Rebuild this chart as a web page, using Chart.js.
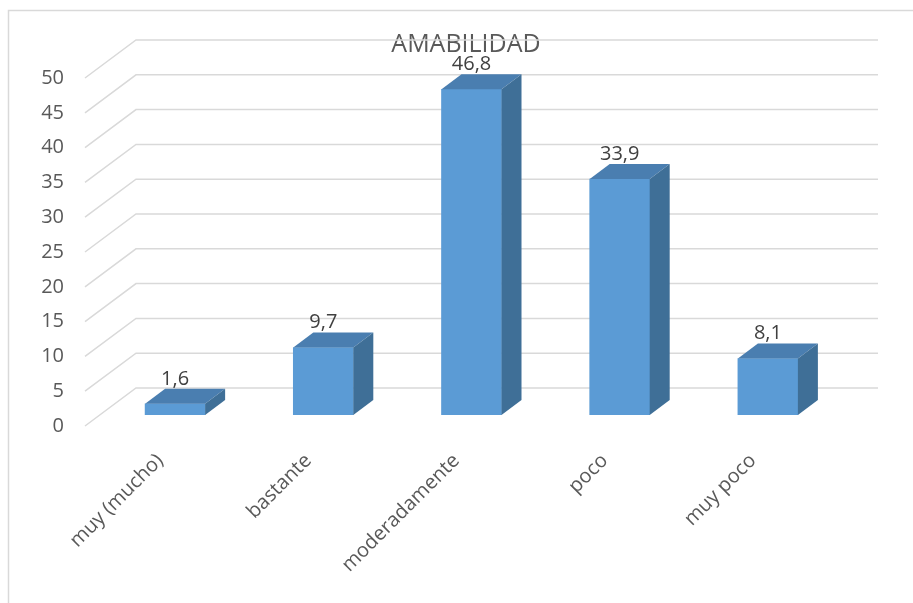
<!DOCTYPE html>
<html>
<head>
<meta charset="utf-8">
<script src="https://cdn.jsdelivr.net/npm/chart.js@4.4.1/dist/chart.umd.min.js"></script>
<style>
  html, body { margin: 0; padding: 0; background: #fff; }
  #wrap { width: 913px; height: 603px; }
</style>
</head>
<body>
<div id="wrap"><canvas id="amabilidad"></canvas></div>
<script>
const categories = ["muy (mucho)", "bastante", "moderadamente", "poco", "muy poco"];
const percentages = [1.6, 9.7, 46.8, 33.9, 8.1];
const yTicks = [0, 5, 10, 15, 20, 25, 30, 35, 40, 45, 50];

const gridColor = "#d9d9d9";
const textColor = "#595959";
const font = "'Open Sans', sans-serif";

// fake 3D: back wall grid, bar top/side faces, value labels
const depth = { dx: 20, dy: -15 };

const frame3d = {
  id: "frame3d",
  afterLayout(chart) {
    // title sits a bit right of the plot centre
    chart.titleBlock.left += 45;
    chart.titleBlock.right += 45;
  },
  beforeDraw(chart) {
    const ctx = chart.ctx;
    ctx.save();
    ctx.strokeStyle = gridColor;
    ctx.lineWidth = 1.5;
    ctx.beginPath();
    ctx.moveTo(8.5, 603);
    ctx.lineTo(8.5, 10.5);
    ctx.lineTo(913, 10.5);
    ctx.stroke();
    ctx.restore();
  },
  beforeDatasetsDraw(chart) {
    const { ctx, chartArea, scales } = chart;
    ctx.save();
    ctx.strokeStyle = gridColor;
    ctx.lineWidth = 1.5;
    yTicks.forEach(v => {
      const y = scales.y.getPixelForValue(v);
      ctx.beginPath();
      ctx.moveTo(chartArea.left - 16, y + 11);
      ctx.lineTo(chartArea.left + 35, y - 27);
      ctx.lineTo(chartArea.right + 36, y - 27);
      ctx.stroke();
    });
    ctx.restore();
  },
  afterDatasetsDraw(chart) {
    const ctx = chart.ctx;
    const meta = chart.getDatasetMeta(0);
    ctx.save();
    meta.data.forEach((bar, i) => {
      const l = bar.x - bar.width / 2, r = bar.x + bar.width / 2;
      const t = bar.y, b = bar.base;
      // top
      ctx.fillStyle = "#4a7eb0";
      ctx.beginPath();
      ctx.moveTo(l, t);
      ctx.lineTo(l + depth.dx, t + depth.dy);
      ctx.lineTo(r + depth.dx, t + depth.dy);
      ctx.lineTo(r, t);
      ctx.closePath();
      ctx.fill();
      // side
      ctx.fillStyle = "#3f6f97";
      ctx.beginPath();
      ctx.moveTo(r, t);
      ctx.lineTo(r + depth.dx, t + depth.dy);
      ctx.lineTo(r + depth.dx, b + depth.dy);
      ctx.lineTo(r, b);
      ctx.closePath();
      ctx.fill();
      // value label
      ctx.fillStyle = "#404040";
      ctx.font = "20px " + font;
      ctx.textAlign = "center";
      ctx.textBaseline = "middle";
      ctx.fillText(percentages[i].toFixed(1).replace(".", ","), bar.x, t - 25);
    });
    ctx.restore();
  }
};

new Chart(document.getElementById("amabilidad"), {
  type: "bar",
  data: {
    labels: categories,
    datasets: [{
      label: "AMABILIDAD",
      data: percentages,
      backgroundColor: "#5b9bd5",
      borderWidth: 0,
      barThickness: 60
    }]
  },
  options: {
    responsive: true,
    maintainAspectRatio: false,
    animation: false,
    layout: { padding: { left: 0, right: 71, top: 0, bottom: 0 } },
    plugins: {
      legend: { display: false },
      tooltip: { enabled: false },
      title: {
        display: true,
        text: "AMABILIDAD",
        color: textColor,
        font: { family: font, size: 25, weight: "normal", lineHeight: 1.2 },
        padding: { top: 30, bottom: 7 }
      }
    },
    scales: {
      x: {
        grid: { display: false, drawTicks: false },
        border: { display: false },
        ticks: {
          color: textColor,
          font: { family: font, size: 20 },
          minRotation: 45,
          maxRotation: 45,
          autoSkip: false,
          padding: 34,
          labelOffset: -15
        },
        afterFit(scale) { scale.height = 188; }
      },
      y: {
        min: 0,
        max: 50,
        grid: { display: false, drawTicks: false },
        border: { display: false },
        ticks: {
          stepSize: 5,
          color: textColor,
          font: { family: font, size: 20 },
          padding: 37,
          labelOffset: 11
        },
        afterFit(scale) { scale.width = 101; }
      }
    }
  },
  plugins: [frame3d]
});
</script>
</body>
</html>
